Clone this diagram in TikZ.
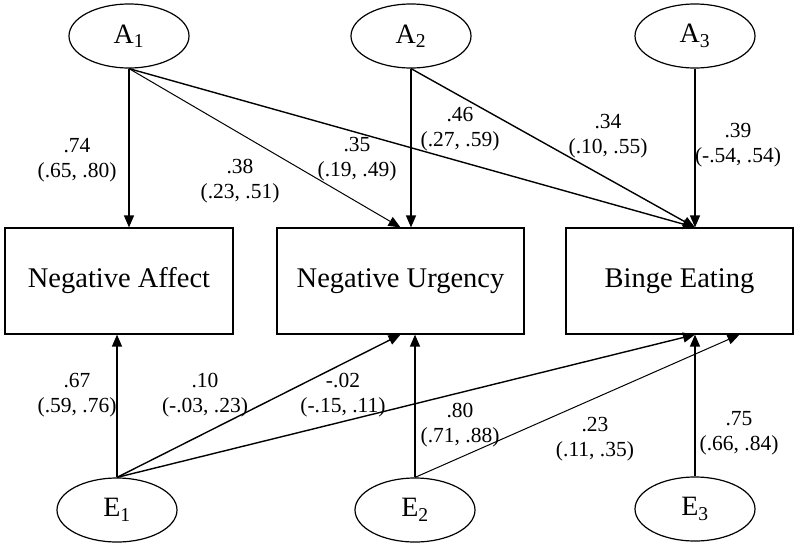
\documentclass[tikz,border=0pt]{standalone}
\usepackage{fontspec}
\setmainfont{Liberation Serif}
\usetikzlibrary{shapes.geometric, arrows.meta}
\tikzstyle{latent} = [ellipse, draw, line width=1.2pt, minimum width=120pt, minimum height=64pt, inner sep=0pt, font=\fontsize{28}{32}\selectfont]
\tikzstyle{observed} = [rectangle, draw, line width=1.2pt, minimum height=106pt, font=\fontsize{28.5}{32}\selectfont]
\tikzstyle{coef} = [align=center, inner sep=0pt, font=\fontsize{21.5}{25}\selectfont]
\tikzstyle{arrow} = [line width=1.4pt, -{Triangle[length=12pt,width=10pt]}]
\tikzstyle{thinarrow} = [arrow, line width=1pt]

\begin{document}
\begin{tikzpicture}[x=1pt, y=-1pt]
                \useasboundingbox (0,0) rectangle (800,549);

                \node (A1) [latent] at (129,36) {A\textsubscript{1}};
                \node (A2) [latent] at (411,36) {A\textsubscript{2}};
                \node (A3) [latent] at (695,36) {A\textsubscript{3}};

                \node (NA) [observed, minimum width=228pt] at (119,281) {Negative Affect};
                \node (NU) [observed, minimum width=247pt] at (400.5,281) {Negative Urgency};
                \node (BE) [observed, minimum width=227pt] at (679.5,281) {Binge Eating};

                \node (E1) [latent] at (117,510) {E\textsubscript{1}};
                \node (E2) [latent] at (415,510) {E\textsubscript{2}};
                \node (E3) [latent] at (695,509) {E\textsubscript{3}};

                \coordinate (BEin) at ([xshift=60pt]BE.south);

                \draw [arrow] (A1.south) -- (A1.south |- NA.north);
                \draw [thinarrow] (A1.south) -- (NU.north);
                \draw [arrow] (A1.south) -- (A3.south |- BE.north);
                \draw [arrow] (A2.south) -- (A2.south |- NU.north);
                \draw [arrow] (A2.south) -- (A3.south |- BE.north);
                \draw [arrow] (A3.south) -- (A3.south |- BE.north);

                \draw [arrow] (E1.north) -- (E1.north |- NA.south);
                \draw [arrow] (E1.north) -- (NU.south);
                \draw [arrow] (E1.north) -- (E3.north |- BE.south);
                \draw [arrow] (E2.north) -- (E2.north |- NU.south);
                \draw [thinarrow] (E2.north) -- (BEin);
                \draw [arrow] (E3.north) -- (E3.north |- BE.south);

                \node (cA1NA) [coef] at (77,160) {.74\\(.65, .80)};
                \node (cA1NU) [coef] at (240,181) {.38\\(.23, .51)};
                \node (cA1BE) [coef] at (357,159) {.35\\(.19, .49)};
                \node (cA2NU) [coef] at (460,129) {.46\\(.27, .59)};
                \node (cA2BE) [coef] at (608,136) {.34\\(.10, .55)};
                \node (cA3BE) [coef] at (738,145) {.39\\(-.54, .54)};

                \node (cE1NA) [coef] at (77,395) {.67\\(.59, .76)};
                \node (cE1NU) [coef] at (205,395) {.10\\(-.03, .23)};
                \node (cE2NU) [coef] at (343,395) {-.02\\(-.15, .11)};
                \node (cE1BE) [coef] at (460,425) {.80\\(.71, .88)};
                \node (cE2BE) [coef] at (595,439) {.23\\(.11, .35)};
                \node (cE3BE) [coef] at (739,433) {.75\\(.66, .84)};
            \end{tikzpicture}
\end{document}
